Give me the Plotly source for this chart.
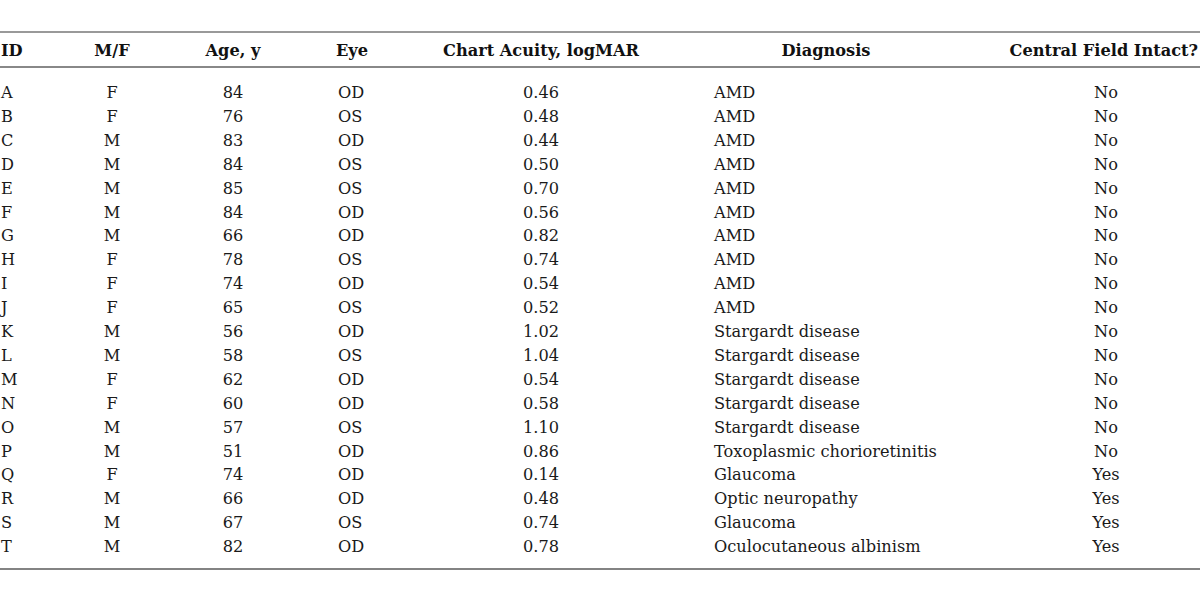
import plotly.graph_objects as go

ids = list("ABCDEFGHIJKLMNOPQRST")
sex = ["F","F","M","M","M","M","M","F","F","F","M","M","F","F","M","M","F","M","M","M"]
ages = [84,76,83,84,85,84,66,78,74,65,56,58,62,60,57,51,74,66,67,82]
eyes = ["OD","OS","OD","OS","OS","OD","OD","OS","OD","OS","OD","OS","OD","OD","OS","OD","OD","OD","OS","OD"]
acuity = [0.46,0.48,0.44,0.50,0.70,0.56,0.82,0.74,0.54,0.52,1.02,1.04,0.54,0.58,1.10,0.86,0.14,0.48,0.74,0.78]
diagnosis = ["AMD"]*10 + ["Stargardt disease"]*5 + ["Toxoplasmic chorioretinitis","Glaucoma","Optic neuropathy","Glaucoma","Oculocutaneous albinism"]
central = ["No"]*16 + ["Yes"]*4
headers = ["ID","M/F","Age, y","Eye","Chart Acuity, logMAR","Diagnosis","Central Field Intact?"]

columns = [
    [str(v) for v in ids],
    sex,
    [str(v) for v in ages],
    eyes,
    [f"{v:.2f}" for v in acuity],
    diagnosis,
    central,
]
# layout: (x position for data, data anchor, header x, header anchor)
col_layout = [
    (1, "middle right", 1, "middle right"),
    (112, "middle center", 112, "middle center"),
    (233, "middle center", 233, "middle center"),
    (338, "middle right", 352, "middle center"),
    (541, "middle center", 541, "middle center"),
    (714, "middle right", 826, "middle center"),
    (1106, "middle center", 1198, "middle left"),
]

FONT = "DejaVu Serif"
ROW = 23.9      # pixel height of one row
TOP = 94        # pixel centre of first row
fig = go.Figure()
rows = list(range(len(ids)))
for vals, (xd, posd, xh, posh), h in zip(columns, col_layout, headers):
    fig.add_trace(go.Scatter(
        x=[xd]*len(vals), y=rows, text=vals, mode="text",
        textposition=posd, textfont=dict(family=FONT, size=16.2, color="#1a1a1a"),
        hoverinfo="skip", showlegend=False))
    fig.add_trace(go.Scatter(
        x=[xh], y=[(52 - TOP) / ROW], text=[f"<b>{h}</b>"], mode="text",
        textposition=posh, textfont=dict(family=FONT, size=16.2, color="#111"),
        hoverinfo="skip", showlegend=False))

for p, col, w in [(32, "#999999", 2), (67, "#888888", 2), (569, "#5a5a5a", 1.5)]:
    yv = (p - TOP) / ROW
    fig.add_shape(type="line", xref="x", yref="y", x0=0, x1=1200, y0=yv, y1=yv,
                  line=dict(color=col, width=w))

fig.update_xaxes(range=[0, 1200], visible=False)
fig.update_yaxes(range=[(595 - TOP) / ROW, -TOP / ROW], visible=False)
fig.update_layout(width=1200, height=595, margin=dict(l=0, r=0, t=0, b=0),
                  paper_bgcolor="white", plot_bgcolor="white")
fig.write_html("out.html", config={"displayModeBar": False},
               post_script="document.body.style.margin='0';document.body.style.overflow='hidden';")
